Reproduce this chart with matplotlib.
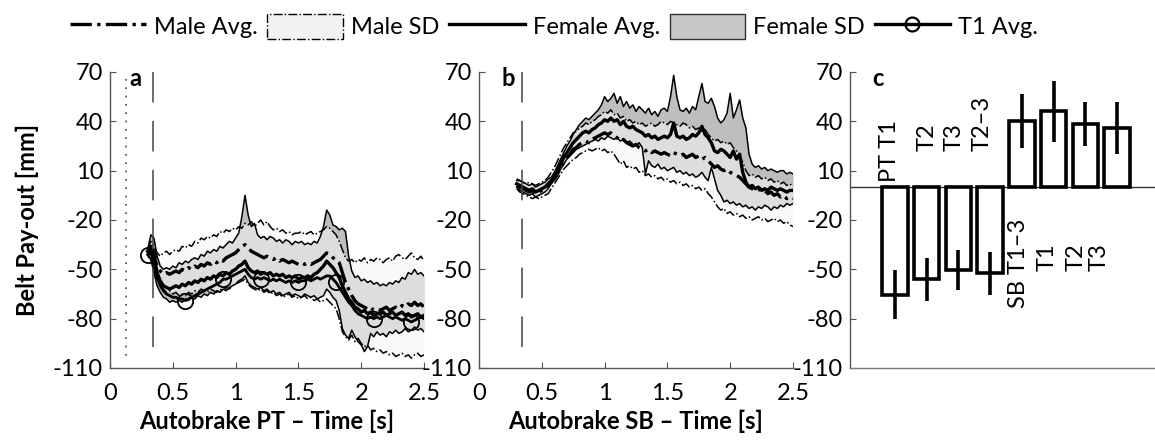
import numpy as np
import matplotlib
matplotlib.use('Agg')
import matplotlib.pyplot as plt
from matplotlib.lines import Line2D
from matplotlib.patches import Patch

plt.rcParams['font.family'] = ['Lato', 'DejaVu Sans']
plt.rcParams['axes.unicode_minus'] = False

# time grid, 0.3 .. 2.5 s
t = np.round(np.arange(0.3, 2.5001, 0.025), 3)

# panel a: autobrake PT
fu_a = [-38, -29, -31, -42, -48, -50, -49, -50, -48, -49, -46, -47, -45, -46, -44, -43, -44, -41, -42, -39,
        -40, -38, -39, -36, -37, -35, -33, -34, -31, -28, -18, -5, -17, -24, -22, -29, -31, -30, -32, -30,
        -31, -33, -32, -34, -32, -33, -35, -33, -34, -33, -35, -34, -35, -33, -34, -30, -24, -14, -17, -23,
        -24, -26, -25, -27, -42, -51, -55, -54, -57, -56, -58, -57, -59, -58, -60, -59, -60, -58, -59, -57,
        -58, -55, -56, -52, -53, -50, -53, -52, -54]
mu_a = [-38, -33, -36, -40, -42, -40, -39, -41, -39, -38, -39, -36, -37, -35, -36, -33, -34, -31, -32, -30,
        -31, -29, -30, -27, -28, -26, -27, -25, -26, -24, -25, -22, -23, -21, -24, -22, -20, -23, -21, -24,
        -26, -25, -27, -26, -28, -27, -29, -28, -28, -27, -29, -28, -27, -29, -28, -27, -26, -24, -25, -27,
        -29, -33, -38, -43, -45, -44, -46, -44, -45, -43, -46, -44, -45, -43, -44, -46, -44, -43, -45, -42,
        -41, -43, -44, -42, -40, -43, -44, -42, -45]
ma_a = [-40, -38, -42, -48, -51, -53, -52, -53, -52, -51, -52, -50, -51, -49, -50, -48, -49, -47, -48, -46,
        -47, -45, -46, -44, -45, -43, -42, -41, -40, -38, -36, -35, -37, -39, -40, -41, -42, -43, -42, -43,
        -44, -43, -45, -44, -45, -46, -45, -46, -47, -46, -47, -46, -47, -46, -45, -44, -42, -40, -41, -43,
        -44, -46, -52, -58, -62, -66, -69, -71, -72, -73, -74, -73, -75, -74, -75, -74, -73, -75, -74, -73,
        -74, -72, -73, -71, -72, -70, -72, -71, -73]
fa_a = [-39, -36, -42, -52, -57, -60, -61, -62, -61, -60, -61, -59, -60, -58, -59, -57, -58, -56, -57, -55,
        -56, -54, -55, -53, -54, -52, -53, -51, -50, -48, -47, -45, -49, -51, -52, -51, -53, -52, -53, -52,
        -54, -53, -54, -53, -55, -54, -55, -54, -56, -55, -55, -54, -55, -53, -52, -50, -48, -45, -47, -49,
        -52, -55, -60, -64, -68, -70, -73, -74, -76, -75, -77, -76, -78, -77, -77, -76, -78, -77, -76, -78,
        -77, -76, -78, -77, -79, -78, -77, -79, -78]
fl_a = [-40, -44, -52, -60, -64, -67, -68, -70, -69, -70, -69, -70, -68, -69, -67, -68, -66, -67, -65, -66,
        -64, -65, -63, -64, -62, -63, -61, -60, -59, -57, -56, -54, -58, -60, -61, -62, -61, -63, -62, -64,
        -63, -65, -64, -66, -65, -64, -66, -65, -66, -67, -65, -66, -67, -66, -68, -67, -66, -62, -64, -67,
        -69, -75, -86, -90, -92, -87, -91, -94, -96, -100, -97, -89, -91, -88, -90, -89, -91, -88, -89, -87,
        -89, -88, -86, -88, -87, -85, -87, -86, -88]
ml_a = [-42, -44, -50, -56, -60, -62, -64, -63, -65, -64, -66, -65, -66, -64, -65, -63, -64, -62, -63, -64,
        -62, -63, -64, -62, -63, -61, -62, -60, -59, -58, -57, -56, -59, -61, -62, -63, -62, -64, -63, -65,
        -64, -66, -65, -67, -66, -65, -67, -66, -68, -67, -66, -68, -67, -69, -68, -70, -69, -68, -70, -72,
        -74, -80, -88, -91, -93, -90, -94, -92, -95, -97, -96, -99, -98, -100, -99, -101, -100, -102, -101, -103,
        -102, -101, -103, -102, -104, -102, -101, -103, -102]
t1_a = [-41, -40, -46, -55, -60, -63, -65, -66, -67, -67, -68, -68, -69, -68, -67, -66, -65, -64, -63, -62,
        -61, -60, -59, -58, -56, -56, -55, -54, -53, -52, -51, -50, -53, -55, -56, -55, -56, -55, -56, -57,
        -56, -57, -56, -57, -58, -57, -58, -57, -58, -57, -57, -56, -57, -56, -55, -56, -55, -54, -54, -56,
        -58, -61, -64, -67, -70, -72, -75, -77, -78, -79, -80, -79, -80, -79, -80, -79, -78, -79, -80, -79,
        -80, -81, -80, -81, -82, -81, -80, -79, -80]

# panel b: autobrake SB
fu_b = [4, 4, 3, 2, 1, 2, 0, 1, 2, 3, 5, 6, 9, 13, 17, 21, 25, 28, 32, 35,
        38, 40, 42, 41, 43, 45, 47, 50, 55, 52, 54, 57, 51, 55, 49, 52, 48, 50, 46, 49,
        47, 45, 48, 44, 46, 43, 47, 48, 46, 55, 68, 55, 47, 46, 48, 45, 49, 47, 55, 63,
        52, 51, 54, 49, 42, 39, 41, 45, 57, 42, 47, 53, 42, 36, 20, 14, 12, 13, 11, 12,
        10, 11, 10, 9, 10, 10, 8, 9, 8]
fa_b = [2, 1, 0, -1, -2, -1, -3, -2, -1, 0, 2, 4, 7, 10, 14, 18, 21, 24, 27, 29,
        31, 33, 34, 33, 35, 36, 38, 39, 41, 40, 42, 40, 41, 38, 40, 37, 36, 37, 35, 34,
        33, 31, 32, 30, 31, 29, 30, 31, 30, 32, 39, 31, 30, 31, 29, 30, 32, 31, 33, 37,
        32, 30, 27, 22, 21, 23, 22, 20, 18, 22, 17, 20, 9, 3, 0, 1, -1, 0, -2, -1,
        -2, 0, -1, -2, -1, -2, -3, -2, -2]
mu_b = [5, 4, 3, 2, 3, 2, 1, 2, 3, 4, 6, 9, 12, 16, 20, 24, 27, 30, 33, 34,
        36, 37, 39, 38, 40, 41, 43, 44, 46, 45, 47, 44, 45, 42, 43, 40, 41, 39, 40, 38,
        39, 37, 38, 39, 37, 38, 40, 39, 38, 40, 39, 38, 37, 39, 38, 36, 37, 35, 36, 34,
        35, 32, 30, 28, 29, 27, 28, 26, 27, 24, 22, 19, 15, 10, 7, 8, 6, 7, 5, 6,
        4, 5, 3, 4, 2, 3, 1, 2, 0]
ma_b = [1, 0, -1, -2, -3, -2, -4, -3, -2, -1, 1, 3, 5, 8, 12, 15, 18, 20, 23, 24,
        26, 27, 28, 27, 29, 30, 31, 32, 33, 32, 33, 31, 30, 28, 29, 27, 26, 25, 26, 24,
        23, 22, 23, 21, 22, 21, 20, 21, 20, 19, 21, 20, 19, 20, 18, 19, 20, 18, 19, 17,
        18, 16, 14, 12, 13, 11, 10, 11, 9, 8, 7, 6, 4, 2, 0, -1, -2, -1, -3, -2,
        -4, -3, -5, -4, -6, -5, -7, -6, -7]
fl_b = [0, -2, -3, -4, -5, -4, -6, -5, -4, -3, -1, 2, 5, 8, 11, 14, 17, 19, 21, 23,
        24, 25, 26, 27, 28, 29, 28, 30, 29, 31, 30, 29, 30, 28, 29, 27, 28, 26, 25, 27,
        24, 8, 16, 13, 12, 14, 11, 12, 10, 11, 12, 9, 10, 8, 9, 7, 8, 6, 7, 9,
        6, 4, 12, 5, -2, -5, -9, -8, -10, -9, -11, -10, -12, -11, -13, -12, -14, -12, -13, -11,
        -12, -14, -12, -13, -11, -12, -10, -11, -10]
ml_b = [-1, -3, -4, -5, -6, -7, -6, -7, -6, -5, -4, -1, 2, 5, 8, 11, 13, 15, 17, 18,
        20, 21, 22, 23, 22, 23, 24, 22, 23, 21, 22, 20, 17, 14, 16, 12, 13, 11, 12, 9,
        10, 7, 8, 6, 7, 5, 6, 4, 5, 3, 4, 2, 3, 1, 2, 0, 1, -1, 0, -2,
        -1, -4, -6, -9, -12, -14, -13, -16, -15, -17, -16, -18, -17, -19, -18, -20, -19, -18, -20, -19,
        -21, -20, -19, -21, -20, -22, -21, -23, -24]

# panel c: bar means and SD
bar_labels = ['PT T1', 'T2', 'T3', 'T2\u20133', 'SB T1\u20133', 'T1', 'T2', 'T3']
bar_means = [-65.5, -56, -50.5, -52.5, 40, 46, 38.5, 36]
bar_sd = [15, 13, 12, 13, 16.5, 18.5, 13.5, 16]

yticks = [70, 40, 10, -20, -50, -80, -110]
xticks = [0, 0.5, 1, 1.5, 2, 2.5]
FS = 17

fig = plt.figure(figsize=(11.55, 4.4), dpi=100)
ax_a = fig.add_axes([110 / 1155, 72 / 440, 314 / 1155, 296 / 440])
ax_b = fig.add_axes([479 / 1155, 72 / 440, 314 / 1155, 296 / 440])
ax_c = fig.add_axes([850 / 1155, 72 / 440, 305 / 1155, 296 / 440])


def style_axis(ax):
    ax.set_ylim(-110, 70)
    ax.set_yticks(yticks)
    for s in ['top', 'right']:
        ax.spines[s].set_visible(False)
    for s in ['left', 'bottom']:
        ax.spines[s].set_color('#555555')
        ax.spines[s].set_linewidth(1)
    ax.tick_params(direction='in', length=4, labelsize=FS, color='#555555')
    ax.tick_params(axis='y', pad=5)
    ax.tick_params(axis='x', pad=11)


def draw_panel(ax, fu, fa, fl, mu, ma, ml, t1=None):
    ax.fill_between(t, fl, fu, color='#bebebe', lw=0)
    ax.fill_between(t, ml, mu, color='#f6f6f6', alpha=0.57, lw=0)
    ax.plot(t, fu, color='k', lw=1.1)
    ax.plot(t, fl, color='k', lw=1.1)
    ax.plot(t, mu, color='k', ls='-.', lw=1.1)
    ax.plot(t, ml, color='k', ls='-.', lw=1.1)
    ax.plot(t, fa, color='k', lw=2.4)
    ax.plot(t, ma, color='k', ls='-.', lw=2.4)
    if t1 is not None:
        ax.plot(t, t1, color='k', lw=2.0, marker='o', mfc='none', mec='k',
                mew=1.3, ms=11, markevery=12)
    ax.plot([0.345, 0.345], [70, -100], color='#444444', lw=1.1, ls=(0, (20, 12)))
    style_axis(ax)
    ax.set_xlim(0, 2.5)
    ax.set_xticks(xticks)
    ax.set_xticklabels(['0', '0.5', '1', '1.5', '2', '2.5'])


draw_panel(ax_a, fu_a, fa_a, fl_a, mu_a, ma_a, ml_a, t1_a)
ax_a.plot([0.127, 0.127], [66, -106], color='#444444', lw=1.2, ls=(0, (1, 4)))
draw_panel(ax_b, fu_b, fa_b, fl_b, mu_b, ma_b, ml_b)

ax_a.set_xlabel('Autobrake PT \u2013 Time [s]', fontsize=FS, fontweight='bold', labelpad=4)
ax_b.set_xlabel('Autobrake SB \u2013 Time [s]', fontsize=FS, fontweight='bold', labelpad=4)
ax_a.set_ylabel('Belt Pay-out [mm]', fontsize=FS, fontweight='bold', labelpad=10)

ax_a.text(0.2, 73, 'a', fontsize=FS, fontweight='bold', va='top', ha='center')
ax_b.text(0.23, 73, 'b', fontsize=FS, fontweight='bold', va='top', ha='center')

# panel c
xpos = np.arange(len(bar_means))
ax_c.axhline(0, color='#333333', lw=1)
ax_c.bar(xpos, bar_means, width=0.8, color='white', edgecolor='k', lw=2.6, zorder=3)
ax_c.errorbar(xpos, bar_means, yerr=bar_sd, fmt='none', ecolor='k', elinewidth=2.6,
              capsize=0, zorder=4)
style_axis(ax_c)
ax_c.set_xlim(-1.42, 8.2)
ax_c.set_xticks([])
ax_c.spines['bottom'].set_color('#777777')
ax_c.text(-0.55, 73, 'c', fontsize=FS, fontweight='bold', va='top', ha='center')

lab_dx = [-0.16, 0.0, -0.15, -0.25, -0.1, -0.2, -0.3, -0.55]
for i, lab in enumerate(bar_labels):
    if bar_means[i] < 0:
        y0 = 3 if i == 0 else 22
        ax_c.text(xpos[i] + lab_dx[i], y0, lab, rotation=90, fontsize=FS,
                  ha='center', va='bottom')
    else:
        y0 = -19 if i == 4 else -34
        ax_c.text(xpos[i] + lab_dx[i], y0, lab, rotation=90, fontsize=FS,
                  ha='center', va='top')

# legend
handles = [
    Line2D([], [], color='k', ls='-.', lw=2.4),
    Patch(facecolor='#f2f2f2', edgecolor='k', ls='-.', lw=1),
    Line2D([], [], color='k', lw=2.4),
    Patch(facecolor='#c8c8c8', edgecolor='#333333', lw=1),
    Line2D([], [], color='k', lw=2.4, marker='o', mfc='none', mec='k', mew=1.6, ms=10),
]
labels = ['Male Avg.', 'Male SD', 'Female Avg.', 'Female SD', 'T1 Avg.']
fig.legend(handles, labels, loc='center', bbox_to_anchor=(0.48, 0.94), ncol=5,
           frameon=False, fontsize=FS, handlelength=3.2, handleheight=1.2,
           handletextpad=0.35, columnspacing=0.4, borderaxespad=0)

fig.savefig('out.png', dpi=100)
